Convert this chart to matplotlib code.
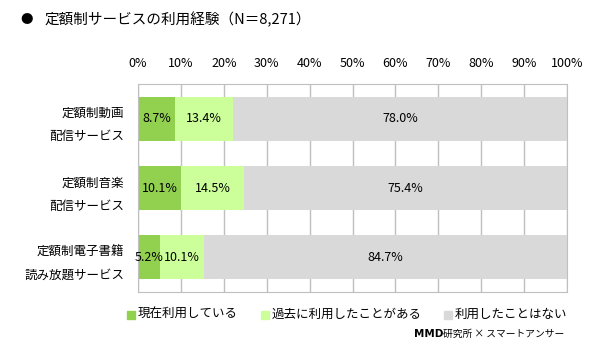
import matplotlib
matplotlib.use("Agg")
import matplotlib.pyplot as plt
import numpy as np

plt.rcParams['font.family'] = ['Noto Sans CJK JP', 'DejaVu Sans']

categories = ["定額制動画\n配信サービス", "定額制音楽\n配信サービス", "定額制電子書籍\n読み放題サービス"]
series_names = ["現在利用している", "過去に利用したことがある", "利用したことはない"]
current = [8.7, 10.1, 5.2]
past = [13.4, 14.5, 10.1]
never = [78.0, 75.4, 84.7]
colors = ["#92D050", "#CCFF99", "#D9D9D9"]
ticks = list(range(0, 101, 10))

fig = plt.figure(figsize=(5.96, 3.48), dpi=100)
ax = fig.add_axes([138 / 596, 1 - 292 / 348, (567 - 138) / 596, (292 - 84) / 348])

y = np.arange(len(categories))
left = np.zeros(len(categories))
for vals, col in zip([current, past, never], colors):
    ax.barh(y, vals, left=left, height=0.63, color=col, zorder=2)
    for yi, (l, v) in enumerate(zip(left, vals)):
        ax.text(l + v / 2, yi, f"{v:.1f}%", ha="center", va="center", fontsize=9, zorder=3)
    left = left + np.array(vals)

ax.set_xlim(0, 100)
ax.set_ylim(2.5, -0.5)
ax.set_xticks(ticks)
ax.set_xticklabels([f"{t}%" for t in ticks], fontsize=9)
ax.xaxis.tick_top()
ax.tick_params(axis="x", length=0, pad=10)
ax.grid(axis="x", color="#BFBFBF", linewidth=1, zorder=1)
ax.set_yticks(y)
ax.set_yticklabels(categories, fontsize=9, linespacing=2.0, ha="right")
ax.tick_params(axis="y", length=0, pad=10)
for s in ax.spines.values():
    s.set_color("#BFBFBF")

fig.text(20 / 596, 1 - 20 / 348, "●", fontsize=9, va="center")
fig.text(45 / 596, 1 - 20 / 348, "定額制サービスの利用経験（N＝8,271）", fontsize=10.5, va="center")

legend_x = [127, 261, 444]
for lx, name, col in zip(legend_x, series_names, colors):
    fig.patches.append(plt.Rectangle((lx / 596, 1 - 319 / 348), 8 / 596, 8 / 348,
                                     transform=fig.transFigure, color=col))
    fig.text((lx + 11) / 596, 1 - 314 / 348, name, fontsize=9, va="center")

fig.text(443 / 596, 1 - 334 / 348, "研究所 × スマートアンサー", fontsize=7, ha="left", va="center")
fig.text(443 / 596, 1 - 334 / 348, "MMD", fontsize=7.5, ha="right", va="center",
         fontweight="bold", family="DejaVu Sans")

fig.savefig("out.png", dpi=100)
